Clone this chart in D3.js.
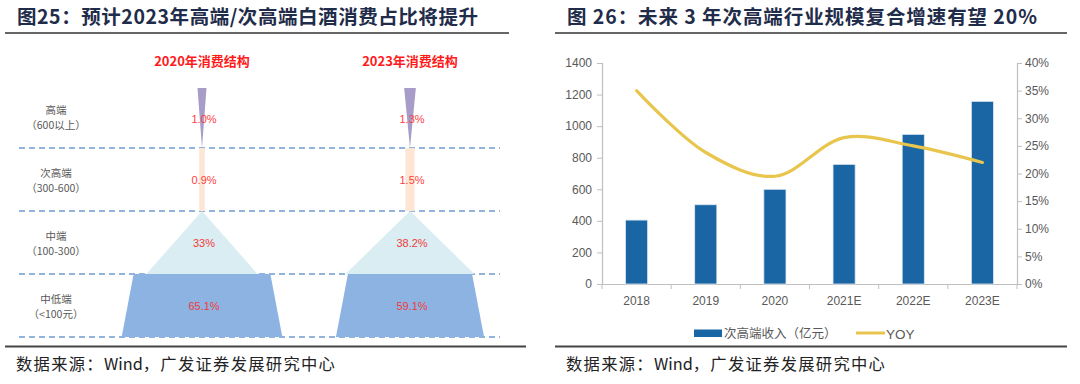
<!DOCTYPE html>
<html><head><meta charset="utf-8">
<script src="https://cdn.jsdelivr.net/npm/d3@7"></script>
<style>
html,body{margin:0;padding:0;background:#fff;}
svg{display:block;}
text{font-family:"Liberation Sans","Noto Sans CJK SC",Arial,sans-serif;}
.cjk{font-family:"Noto Sans CJK SC","Liberation Sans",sans-serif;}
</style></head>
<body>
<svg id="c" width="1080" height="384"></svg>
<script>
// ---------- Left panel data ----------
const leftTitle = "图25：预计2023年高端/次高端白酒消费占比将提升";
const tiers = ["高端", "次高端", "中端", "中低端"];
const tierRanges = ["（600以上）", "（300-600）", "（100-300）", "（<100元）"];
const structYears = ["2020年消费结构", "2023年消费结构"];
const share2020 = [1.0, 0.9, 33, 65.1];
const share2023 = [1.3, 1.5, 38.2, 59.1];
const shareLabels2020 = ["1.0%", "0.9%", "33%", "65.1%"];
const shareLabels2023 = ["1.3%", "1.5%", "38.2%", "59.1%"];

// ---------- Right panel data ----------
const rightTitle = "图 26：未来 3 年次高端行业规模复合增速有望 20%";
const categories = ["2018", "2019", "2020", "2021E", "2022E", "2023E"];
const revenue = [405, 502, 600, 758, 948, 1157];
const yoy = [0.35, 0.238, 0.195, 0.265, 0.25, 0.22];
const leftTicks = [0, 200, 400, 600, 800, 1000, 1200, 1400];
const rightTicks = [0, 0.05, 0.10, 0.15, 0.20, 0.25, 0.30, 0.35, 0.40];
const legendLabels = ["次高端收入（亿元）", "YOY"];
const sourceParts = ["数据来源：", "Wind", "，广发证券发展研究中心"];

const svg = d3.select("#c");
const titleColor = "#1f2c4a";

// ---------- Titles & separators ----------
function header(x0, x1, x2, title, titleLen) {
  svg.append("text").attr("class","cjk").attr("x", x0 + 12).attr("y", 24)
    .attr("font-size", 19.5).attr("font-weight", "bold").attr("fill", titleColor)
    .attr("textLength", titleLen).attr("lengthAdjust", "spacing")
    .text(title);
  svg.append("line").attr("x1", x0).attr("x2", x1).attr("y1", 33).attr("y2", 33)
    .attr("stroke", "#333").attr("stroke-width", 1.6);
  svg.append("line").attr("x1", x0).attr("x2", x2).attr("y1", 346.5).attr("y2", 346.5)
    .attr("stroke", "#444").attr("stroke-width", 2);
  const st = svg.append("text").attr("class","cjk").attr("x", x0 + 11).attr("y", 369.5)
    .attr("font-size", 16.3).attr("fill", "#222");
  sourceParts.forEach((p, i) => {
    st.append("tspan").attr("letter-spacing", i === 1 ? 0 : 1.3).text(p);
  });
}
header(5, 509, 526, leftTitle, 461);
header(555, 1067, 1067, rightTitle, 470);

// ---------- Left panel: structure diagram ----------
const yBand = d3.scaleBand().domain(tiers).range([85, 337]);
const xCol = d3.scalePoint().domain(structYears).range([202, 410]);
const tierColors = ["#a89cc8", "#fde6d4", "#daedf3", "#8db3e2"];
const widthScales = [
  d3.scaleLinear().domain([0, 1]).range([0, 9]),
  d3.scaleLinear().domain([0, 1]).range([0, 6.2]),
  d3.scaleLinear().domain([0, 1]).range([0, 3.37]),
  d3.scaleLinear().domain([0, 1]).range([0, 2.1])
];
const flare = 12;

// dashed separators
tiers.forEach(t => {
  const y = yBand(t) + yBand.bandwidth();
  svg.append("line").attr("x1", 19).attr("x2", 500).attr("y1", y).attr("y2", y)
    .attr("stroke", "#6f9bd0").attr("stroke-width", 1.6).attr("stroke-dasharray", "6,4");
});

// tier labels
tiers.forEach((t, i) => {
  const cy = yBand(t) + yBand.bandwidth() / 2;
  svg.append("text").attr("class","cjk").attr("x", 56).attr("y", cy - 3).attr("text-anchor", "middle")
    .attr("font-size", 10.5).attr("fill", "#595959").text(t);
  svg.append("text").attr("class","cjk").attr("x", 56).attr("y", cy + 12).attr("text-anchor", "middle")
    .attr("font-size", 10.5).attr("fill", "#595959").text(tierRanges[i]);
});

const shapes = [share2020, share2023];
const shapeLabels = [shareLabels2020, shareLabels2023];
structYears.forEach((yr, c) => {
  const cx = xCol(yr);
  svg.append("text").attr("class","cjk").attr("x", cx).attr("y", 66).attr("text-anchor", "middle")
    .attr("font-size", 13).attr("font-weight", "bold").attr("fill", "#ff1a1a").text(yr);
  shapes[c].forEach((v, i) => {
    const t = tiers[i];
    const y0 = yBand(t) + (i === 0 ? 3 : 0), y1 = yBand(t) + yBand.bandwidth();
    const w = widthScales[i](v);
    let pts;
    if (i === 0) pts = [[cx - w/2, y0], [cx + w/2, y0], [cx, y1]];
    else if (i === 1) pts = [[cx - w/2, y0], [cx + w/2, y0], [cx + w/2, y1], [cx - w/2, y1]];
    else if (i === 2) pts = [[cx, y0], [cx + w/2, y1], [cx - w/2, y1]];
    else pts = [[cx - w/2, y0], [cx + w/2, y0], [cx + w/2 + flare, y1], [cx - w/2 - flare, y1]];
    svg.append("polygon").attr("points", pts.map(p => p.join(",")).join(" "))
      .attr("fill", tierColors[i]);
  });
  shapes[c].forEach((v, i) => {
    const t = tiers[i];
    const cy = yBand(t) + yBand.bandwidth() / 2 + (i === 0 ? 2 : 0);
    svg.append("text").attr("x", cx + 2).attr("y", cy + 4).attr("text-anchor", "middle")
      .attr("font-size", 11).attr("fill", i >= 2 ? "#f03c3c" : "#ff4040").text(shapeLabels[c][i]);
  });
});

// ---------- Right panel: bar + line chart ----------
const x = d3.scaleBand().domain(categories).range([602, 1017]).paddingInner(0.68).paddingOuter(0.34);
const yL = d3.scaleLinear().domain([0, 1400]).range([284, 63]);
const yR = d3.scaleLinear().domain([0, 0.4]).range([284, 63]);
const axisColor = "#bfbfbf", labelColor = "#595959";

const gL = svg.append("g").attr("transform", "translate(602,0)")
  .call(d3.axisLeft(yL).tickValues(leftTicks).tickSize(5).tickPadding(5).tickFormat(d3.format("d")));
const gR = svg.append("g").attr("transform", "translate(1017,0)")
  .call(d3.axisRight(yR).tickValues(rightTicks).tickSize(5).tickPadding(3).tickFormat(d3.format(".0%")));
const gX = svg.append("g").attr("transform", "translate(0,284)")
  .call(d3.axisBottom(x).tickSize(0).tickPadding(12));
[gL, gR, gX].forEach(g => {
  g.selectAll(".domain").attr("stroke", axisColor).attr("stroke-width", 1.2);
  g.selectAll(".tick line").attr("stroke", axisColor);
  g.selectAll("text").attr("fill", labelColor).attr("font-size", 12)
    .attr("font-family", "Liberation Sans, Arial, sans-serif");
});
// category boundary ticks
const bounds = categories.map(c => x(c) - x.step() * x.paddingInner() / 2).concat([1017]);
svg.append("g").selectAll("line").data(bounds).join("line")
  .attr("x1", d => d).attr("x2", d => d).attr("y1", 284).attr("y2", 289)
  .attr("stroke", axisColor);

// bars
svg.append("g").selectAll("rect").data(revenue).join("rect")
  .attr("x", (d, i) => x(categories[i])).attr("width", x.bandwidth())
  .attr("y", d => yL(d)).attr("height", d => yL(0) - yL(d))
  .attr("fill", "#1a66a5").attr("stroke", "#dfe8f2").attr("stroke-width", 0.8);

// yoy line
const line = d3.line().x((d, i) => x(categories[i]) + x.bandwidth() / 2).y(d => yR(d))
  .curve(d3.curveCatmullRom.alpha(0.5));
svg.append("path").datum(yoy).attr("d", line).attr("fill", "none")
  .attr("stroke", "#e8c54d").attr("stroke-width", 3.2).attr("stroke-linecap", "round");

// legend
svg.append("rect").attr("x", 694).attr("y", 329.5).attr("width", 28).attr("height", 7.5).attr("fill", "#1a66a5");
svg.append("text").attr("class","cjk").attr("x", 724).attr("y", 338).attr("font-size", 12.5)
  .attr("fill", labelColor).text(legendLabels[0]);
svg.append("line").attr("x1", 856).attr("x2", 885).attr("y1", 333).attr("y2", 333)
  .attr("stroke", "#e8c54d").attr("stroke-width", 3);
svg.append("text").attr("x", 886).attr("y", 338.5).attr("font-size", 13.5)
  .attr("fill", labelColor).text(legendLabels[1]);
</script>
</body></html>
